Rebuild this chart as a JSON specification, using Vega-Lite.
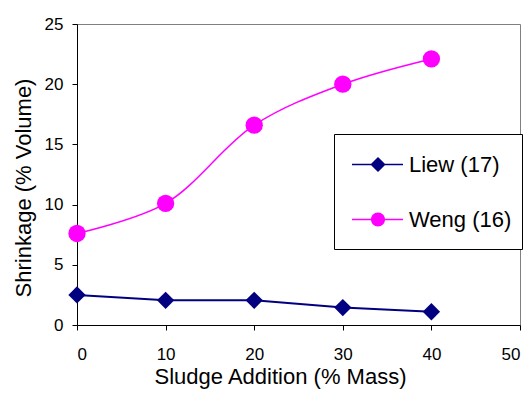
{
  "$schema": "https://vega.github.io/schema/vega-lite/v6.json",
  "width": 443,
  "height": 301,
  "autosize": {"type": "none"},
  "padding": {"left": 77, "top": 24, "right": 7, "bottom": 75},
  "background": "white",
  "data": {"values": [
    {"x": 0, "y": 2.5, "series": "Liew (17)"},
    {"x": 10, "y": 2.05, "series": "Liew (17)"},
    {"x": 20, "y": 2.05, "series": "Liew (17)"},
    {"x": 30, "y": 1.45, "series": "Liew (17)"},
    {"x": 40, "y": 1.1, "series": "Liew (17)"},
    {"x": 0, "y": 7.6, "series": "Weng (16)"},
    {"x": 10, "y": 10.1, "series": "Weng (16)"},
    {"x": 20, "y": 16.6, "series": "Weng (16)"},
    {"x": 30, "y": 20.0, "series": "Weng (16)"},
    {"x": 40, "y": 22.1, "series": "Weng (16)"}
  ]},
  "config": {
    "view": {"stroke": "#808080", "strokeWidth": 1},
    "font": "Liberation Sans",
    "axis": {
      "grid": false,
      "domainColor": "black",
      "tickColor": "black",
      "tickSize": 5,
      "labelFont": "Liberation Sans",
      "labelFontSize": 17,
      "labelColor": "black",
      "titleFont": "Liberation Sans",
      "titleFontSize": 22,
      "titleFontWeight": "normal",
      "titleColor": "black"
    },
    "legend": {
      "orient": "none",
      "legendX": 257,
      "legendY": 110,
      "padding": 10.5,
      "strokeColor": "black",
      "fillColor": "white",
      "labelFont": "Liberation Sans",
      "labelFontSize": 22,
      "labelColor": "black",
      "labelOffset": 24.5,
      "rowPadding": 24,
      "symbolSize": 1600,
      "symbolStrokeWidth": 0
    }
  },
  "encoding": {
    "x": {
      "field": "x", "type": "quantitative",
      "scale": {"domain": [0, 50], "nice": false},
      "axis": {"values": [0, 10, 20, 30, 40, 50], "title": "Sludge Addition (% Mass)", "labelPadding": 16, "titlePadding": 4, "titleX": 203}
    },
    "y": {
      "field": "y", "type": "quantitative",
      "scale": {"domain": [0, 25], "nice": false},
      "axis": {"values": [0, 5, 10, 15, 20, 25], "title": "Shrinkage (% Volume)", "labelPadding": 9, "titlePadding": 9, "titleY": 163.5}
    },
    "color": {
      "field": "series", "type": "nominal",
      "scale": {"domain": ["Liew (17)", "Weng (16)"], "range": ["#000080", "#FF00FF"]},
      "legend": {
        "title": " ",
        "titleOrient": "bottom",
        "titleFontSize": 4,
        "titlePadding": 4,
        "encode": {
          "symbols": {
            "update": {
              "size": {"value": 1600},
              "strokeWidth": {"value": 0},
              "shape": {"signal": "datum.value === 'Liew (17)' ? 'M-0.625,-0.04L1.925,-0.04L1.925,0.04L-0.625,0.04Z M0.675,-0.38L1.055,0L0.675,0.38L0.295,0Z' : 'M-0.625,-0.035L1.925,-0.035L1.925,0.035L-0.625,0.035Z M1.025,0A0.35,0.35 0 1,1 0.325,0A0.35,0.35 0 1,1 1.025,0Z'"}
            }
          }
        }
      }
    }
  },
  "layer": [
    {
      "transform": [{"filter": "datum.series === 'Liew (17)'"}],
      "mark": {"type": "line", "strokeWidth": 2},
      "encoding": {}
    },
    {
      "transform": [{"filter": "datum.series === 'Weng (16)'"}],
      "mark": {"type": "line", "strokeWidth": 1.5, "interpolate": "catmull-rom"},
      "encoding": {}
    },
    {
      "transform": [{"filter": "datum.series === 'Liew (17)'"}],
      "mark": {"type": "point", "shape": "diamond", "filled": true, "opacity": 1, "size": 300, "strokeWidth": 0},
      "encoding": {}
    },
    {
      "transform": [{"filter": "datum.series === 'Weng (16)'"}],
      "mark": {"type": "point", "shape": "circle", "filled": true, "opacity": 1, "size": 300, "strokeWidth": 0},
      "encoding": {}
    }
  ]
}
